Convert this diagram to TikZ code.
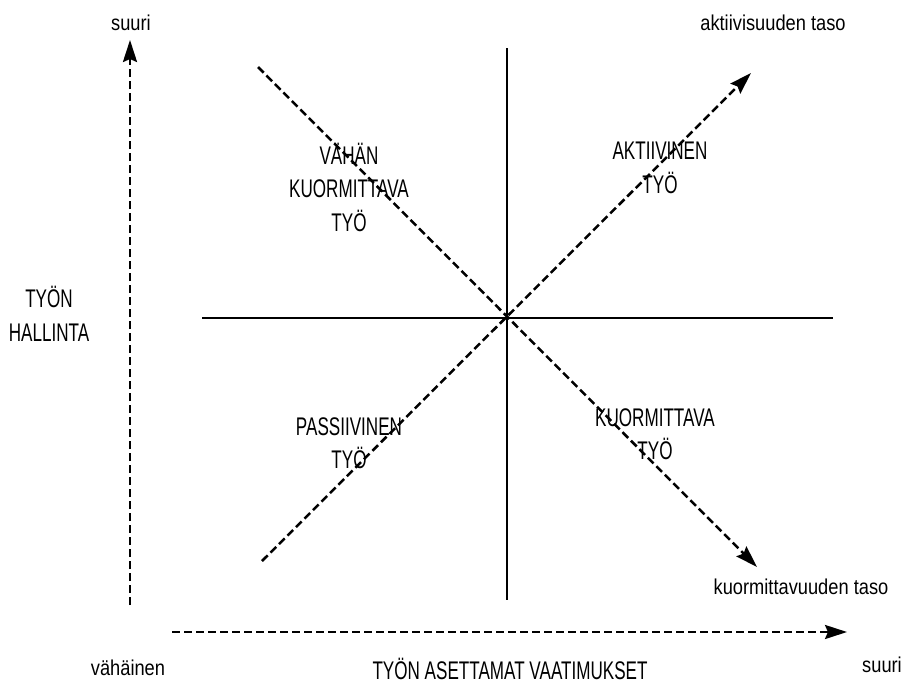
\documentclass[tikz,border=0pt]{standalone}
\usepackage{fontspec}
\newfontfamily\capsfont{Liberation Sans}[FakeStretch=0.67]
\newfontfamily\lowfont{Liberation Sans}[FakeStretch=0.85]
\usetikzlibrary{arrows.meta}
\begin{document}
\begin{tikzpicture}[x=1pt,y=-1pt,
  axisline/.style={line width=2pt},
  dashline/.style={line width=2.5pt, dash pattern=on 8pt off 4pt},
  dasharrow/.style={dashline, -{Stealth[length=22pt,width=14pt,inset=3pt]}},
  caps/.style={font=\capsfont\fontsize{25.5}{33.5}\selectfont, align=center, inner sep=0pt},
  capsone/.style={font=\capsfont\fontsize{25.5}{33.5}\selectfont, inner sep=0pt},
  low/.style={font=\lowfont\fontsize{21.5}{25}\selectfont, inner sep=0pt}]
\useasboundingbox (0,0) rectangle (903,683);

% axis end points
\coordinate (vS) at (130,605);
\coordinate (vE) at (130,40);
\coordinate (hS) at (172,632);
\coordinate (hE) at (847,632);
% quadrant lines
\coordinate (qT) at (507,48);
\coordinate (qB) at (507,600);
\coordinate (qL) at (202,318);
\coordinate (qR) at (833,318);
% diagonals
\coordinate (d1S) at (258,67);
\coordinate (d1E) at (757,567);
\coordinate (d2S) at (262,561);
\coordinate (d2E) at (751,73);

\draw[axisline] (qT) -- (qB);
\draw[axisline] (qL) -- (qR);
\draw[dasharrow] (vS) -- (vE);
\draw[dasharrow] (hS) -- (hE);
\draw[dasharrow] (d1S) -- (d1E);
\draw[dasharrow] (d2S) -- (d2E);

\node[low] (suuriT) at (131,23) {suuri};
\node[low] (akt) at (773,23) {aktiivisuuden taso};
\node[low] (kuorm) at (801,587) {kuormittavuuden taso};
\node[low] (vah) at (128,668) {vähäinen};
\node[low] (suuriB) at (882,665) {suuri};

\node[caps] (q1) at (349,187) {VÄHÄN\\KUORMITTAVA\\TYÖ};
\node[caps] (q2) at (660,168) {AKTIIVINEN\\TYÖ};
\node[caps] (q3) at (349,443) {PASSIIVINEN\\TYÖ};
\node[caps] (q4) at (655,434) {KUORMITTAVA\\TYÖ};
\node[caps] (hall) at (49,314) {TYÖN\\HALLINTA};
\node[capsone, anchor=base] (vaat) at (510,679) {TYÖN ASETTAMAT VAATIMUKSET};
\end{tikzpicture}
\end{document}
